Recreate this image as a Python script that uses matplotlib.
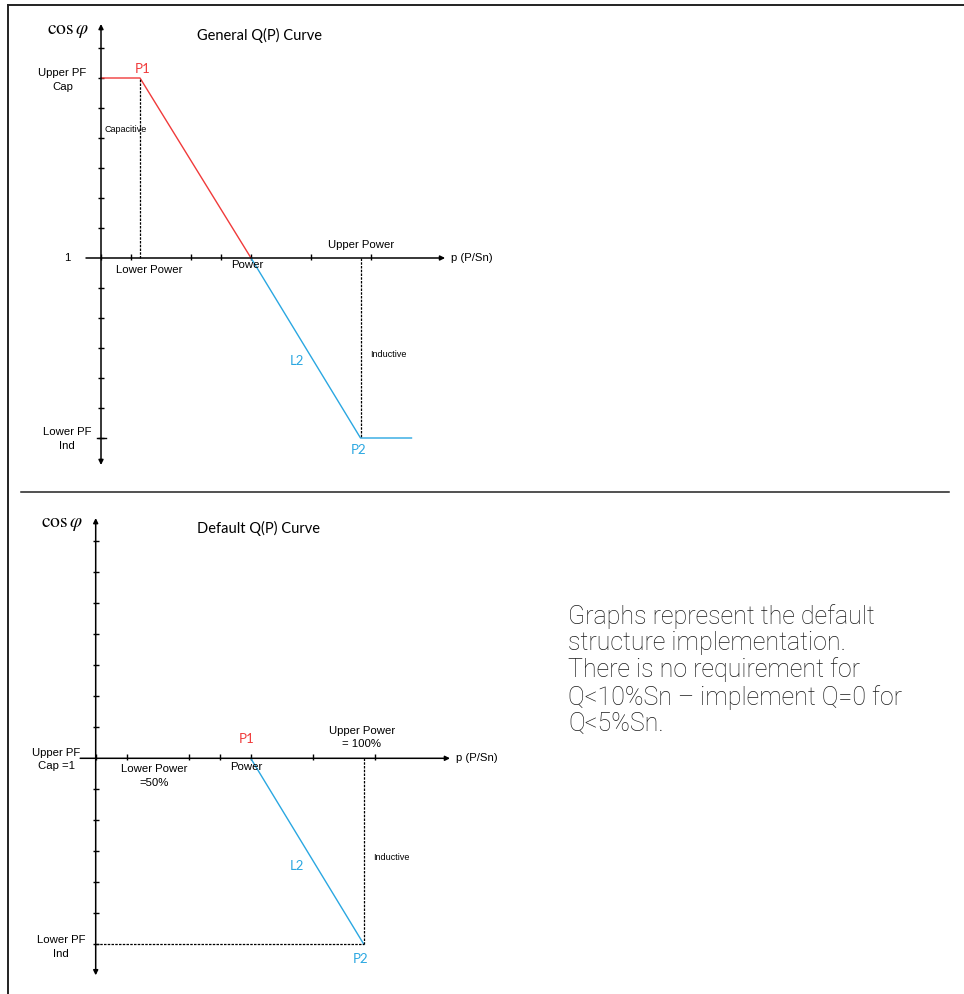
import numpy as np
import matplotlib
matplotlib.use('Agg')
import matplotlib.pyplot as plt
from matplotlib.lines import Line2D

plt.rcParams['mathtext.fontset'] = 'stix'

# curve break points (x in power ticks, y in pf ticks)
gen_p = [0.0, 1.3, 5.0, 8.65, 10.35]
gen_pf = [6, 6, 0, -6, -6]
def_p = [5.0, 8.65]
def_pf = [0, -6]
p2_x = 8.65
x_ticks = [0, 1, 3, 4, 5, 7, 9]
y_ticks = [-6, -5, -4, -3, -2, -1, 1, 2, 3, 4, 5, 6, 7]

RED = '#f03a3a'
BLUE = '#2aa7e1'
SANS = 'Liberation Sans'
CAL = 'Lato'
LS = 1.45

W, H = 964, 994
fig = plt.figure(figsize=(W / 100, H / 100), dpi=100)


def make_axes(x0, y0, scale, px_left, px_right, px_top, px_bot):
    # place axes so that data origin lands on pixel (x0, y0)
    ax = fig.add_axes([px_left / W, 1 - px_bot / H,
                       (px_right - px_left) / W, (px_bot - px_top) / H])
    ax.set_xlim((px_left - x0) / scale, (px_right - x0) / scale)
    ax.set_ylim((y0 - px_bot) / scale, (y0 - px_top) / scale)
    ax.axis('off')
    return ax


def draw_axes(ax, ytop, ybot, xend):
    ax.annotate('', xy=(0, ytop), xytext=(0, ybot),
                arrowprops=dict(arrowstyle='<|-|>', lw=1.1, color='k',
                                mutation_scale=7, shrinkA=0, shrinkB=0))
    ax.annotate('', xy=(xend, 0), xytext=(-0.5, 0),
                arrowprops=dict(arrowstyle='-|>', lw=1.1, color='k',
                                mutation_scale=7, shrinkA=0, shrinkB=0))
    ax.plot(np.zeros(len(y_ticks)), y_ticks, ls='none', marker='_',
            ms=5, mew=1, color='k')
    ax.plot(x_ticks, np.full(len(x_ticks), 0.05), ls='none', marker='|',
            ms=4, mew=1, color='k')


# ---- top: general curve ----
ax1 = make_axes(101, 258, 30, 20, 500, 10, 480)
draw_axes(ax1, 7.8, -6.9, 11.47)
ax1.plot(gen_p[:3], gen_pf[:3], color=RED, lw=1)
ax1.plot(gen_p[2:], gen_pf[2:], color=BLUE, lw=1)
ax1.plot([gen_p[1], gen_p[1]], [0, gen_pf[1]], color='k', lw=0.9, ls=(0, (2, 1)))
ax1.plot([p2_x, p2_x], [0, -6], color='k', lw=0.9, ls=(0, (2, 1)))
ax1.plot([-0.12, 0.17], [-6, -6], color='k', lw=1)

ax1.text(-1.1, 7.6, r'$\cos\varphi$', fontsize=14, ha='center', va='center')
ax1.text(5.27, 7.43, 'General Q(P) Curve', family=CAL, fontsize=10.5, ha='center', va='center')
ax1.text(-1.28, 5.93, 'Upper PF\nCap', family=SANS, fontsize=8.2, ha='center', va='center', linespacing=LS)
ax1.text(-1.13, 0, '1', family=SANS, fontsize=8.2, ha='center', va='center')
ax1.text(-1.13, -6.03, 'Lower PF\nInd', family=SANS, fontsize=8.2, ha='center', va='center', linespacing=LS)
ax1.text(1.4, 6.3, 'P1', family=CAL, fontsize=9.5, color=RED, ha='center', va='center')
ax1.text(0.13, 4.3, 'Capacitive', family=SANS, fontsize=6.5, ha='left', va='center')
ax1.text(1.62, -0.4, 'Lower Power', family=SANS, fontsize=8.2, ha='center', va='center')
ax1.text(4.87, -0.23, 'Power', family=SANS, fontsize=8.2, ha='center', va='center')
ax1.text(8.67, 0.43, 'Upper Power', family=SANS, fontsize=8.2, ha='center', va='center')
ax1.text(11.67, 0, 'p (P/Sn)', family=SANS, fontsize=8.2, ha='left', va='center')
ax1.text(8.97, -3.2, 'Inductive', family=SANS, fontsize=6.5, ha='left', va='center')
ax1.text(6.53, -3.42, 'L2', family=CAL, fontsize=9.5, color=BLUE, ha='center', va='center')
ax1.text(8.6, -6.4, 'P2', family=CAL, fontsize=9.5, color=BLUE, ha='center', va='center')

# ---- bottom: default curve ----
ax2 = make_axes(95.7, 758.3, 31, 20, 500, 500, 990)
draw_axes(ax2, 7.75, -7.0, 11.43)
ax2.plot(def_p, def_pf, color=BLUE, lw=1)
ax2.plot([0, p2_x], [-6, -6], color='k', lw=0.9, ls=(0, (2, 1)))
ax2.plot([p2_x, p2_x], [0, -6], color='k', lw=0.9, ls=(0, (2, 1)))

ax2.text(-1.09, 7.59, r'$\cos\varphi$', fontsize=14, ha='center', va='center')
ax2.text(5.25, 7.4, 'Default Q(P) Curve', family=CAL, fontsize=10.5, ha='center', va='center')
ax2.text(4.88, 0.62, 'P1', family=CAL, fontsize=9.5, color=RED, ha='center', va='center')
ax2.text(8.59, 0.67, 'Upper Power\n= 100%', family=SANS, fontsize=8.2, ha='center', va='center', linespacing=LS)
ax2.text(-1.28, -0.04, 'Upper PF\nCap =1', family=SANS, fontsize=8.2, ha='center', va='center', linespacing=LS)
ax2.text(1.88, -0.57, 'Lower Power\n=50%', family=SANS, fontsize=8.2, ha='center', va='center', linespacing=LS)
ax2.text(4.85, -0.28, 'Power', family=SANS, fontsize=8.2, ha='center', va='center')
ax2.text(11.62, 0, 'p (P/Sn)', family=SANS, fontsize=8.2, ha='left', va='center')
ax2.text(8.95, -3.2, 'Inductive', family=SANS, fontsize=6.5, ha='left', va='center')
ax2.text(6.49, -3.46, 'L2', family=CAL, fontsize=9.5, color=BLUE, ha='center', va='center')
ax2.text(-1.12, -6.09, 'Lower PF\nInd', family=SANS, fontsize=8.2, ha='center', va='center', linespacing=LS)
ax2.text(8.56, -6.47, 'P2', family=CAL, fontsize=9.5, color=BLUE, ha='center', va='center')

# note on the right
note = ('Graphs represent the default\nstructure implementation.\n'
        'There is no requirement for\nQ<10%Sn \u2013 implement Q=0 for\nQ<5%Sn.')
fig.text(568 / W, 1 - 604 / H, note, family='Roboto', fontweight='light',
         fontsize=18, color='#1a1a1a', ha='left', va='top', linespacing=1.12)

# page frame lines
fig.add_artist(Line2D([8 / W, 1], [1 - 5 / H, 1 - 5 / H], color='#222222', lw=1.4))
fig.add_artist(Line2D([8 / W, 8 / W], [0, 1 - 5 / H], color='#222222', lw=1.4))
fig.add_artist(Line2D([21 / W, 949 / W], [1 - 491.5 / H, 1 - 491.5 / H], color='#222222', lw=1.1))

fig.savefig('out.png', dpi=100)
